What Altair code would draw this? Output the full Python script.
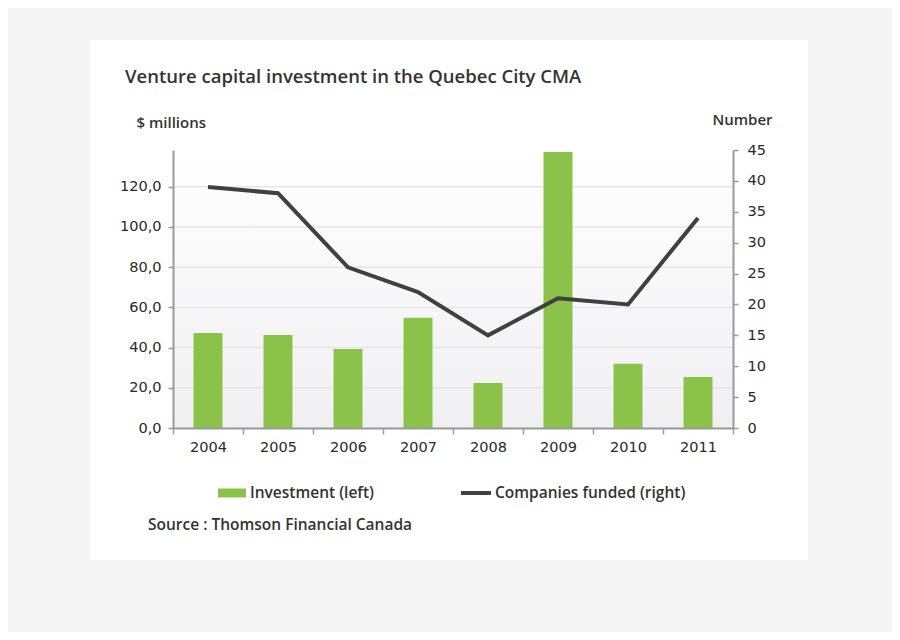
import altair as alt
import pandas as pd

years = ["2004", "2005", "2006", "2007", "2008", "2009", "2010", "2011"]
investment = [47.3, 46.3, 39.3, 54.8, 22.4, 137.3, 32.0, 25.4]
companies = [39, 38, 26, 22, 15, 21, 20, 34]
left_ticks = [0, 20, 40, 60, 80, 100, 120]
right_ticks = [0, 5, 10, 15, 20, 25, 30, 35, 40, 45]

title_text = "Venture capital investment in the Quebec City CMA"
source_text = "Source : Thomson Financial Canada"
bar_label = "Investment (left)"
line_label = "Companies funded (right)"

FONT = "Open Sans"
NUMFONT = "DejaVu Sans"
TXT = "#333333"
NUMC = "#2a2a2a"
AX = "#9a9a9a"
LBL = 14.5

df = pd.DataFrame({"year": years, "investment": investment, "companies": companies,
                   "bar_s": [bar_label] * len(years), "line_s": [line_label] * len(years)})
grid_df = pd.DataFrame({"v": left_ticks})
one = pd.DataFrame({"k": [0]})

W, H = 560, 278

xenc = alt.X("year:O", scale=alt.Scale(paddingInner=0, paddingOuter=0),
             axis=alt.Axis(title=None, labelAngle=0, tickBand="extent", domainColor=AX,
                           domainWidth=2, tickColor=AX, tickSize=6, tickWidth=1.5,
                           labelPadding=6, labelFontSize=LBL, labelColor=NUMC,
                           labelFont=NUMFONT, zindex=1))

card = alt.Chart(one).mark_rect(fill="white").encode(
    x=alt.value(-83), x2=alt.value(635), y=alt.value(-110), y2=alt.value(410))

bg = alt.Chart(one).mark_rect(
    fill=alt.Gradient(gradient="linear",
                      stops=[alt.GradientStop(color="#ffffff", offset=0),
                             alt.GradientStop(color="#f0f0f3", offset=1)],
                      x1=0, x2=0, y1=0, y2=1)
).encode(x=alt.value(0), x2=alt.value(W), y=alt.value(0), y2=alt.value(H))

yleft_scale = alt.Scale(domain=[0, 138.3], nice=False, zero=True)

grid = alt.Chart(grid_df).mark_rule(color="#e6e6e8", strokeWidth=1.5).encode(
    y=alt.Y("v:Q", scale=yleft_scale),
    x=alt.value(0), x2=alt.value(W))

bars = alt.Chart(df).mark_bar(size=29).encode(
    x=xenc,
    y=alt.Y("investment:Q", scale=yleft_scale,
            axis=alt.Axis(values=left_ticks,
                          labelExpr="replace(format(datum.value, '.1f'), '.', ',')",
                          grid=False, zindex=1,
                          domainColor=AX, domainWidth=2, tickColor=AX, tickSize=5,
                          tickWidth=1.5, labelFontSize=LBL, labelColor=NUMC,
                          labelFont=NUMFONT, labelPadding=7,
                          title="$ millions", titleAngle=0, titleX=-37,
                          titleY=-28, titleAlign="left", titleBaseline="middle",
                          titleFontSize=15, titleFont=FONT, titleColor=TXT,
                          titleFontWeight=600)),
    color=alt.Color("bar_s:N", scale=alt.Scale(range=["#8bc34a"]),
                    legend=alt.Legend(orient="none", legendX=45, legendY=329, title=None,
                                      padding=0, symbolType="M-1,-0.32L1,-0.32L1,0.32L-1,0.32Z",
                                      symbolSize=784, symbolStrokeWidth=0, labelOffset=4,
                                      labelFontSize=15.5, labelFontWeight=600,
                                      labelColor=TXT, labelFont=FONT, labelLimit=400)),
)

left = alt.layer(grid, bars)

line = alt.Chart(df).mark_line(strokeWidth=4).encode(
    x=alt.X("year:O"),
    y=alt.Y("companies:Q", scale=alt.Scale(domain=[0, 45], nice=False),
            axis=alt.Axis(orient="right", values=right_ticks, grid=False, zindex=1,
                          domainColor=AX, domainWidth=2, tickColor=AX, tickSize=5,
                          tickWidth=1.5, labelFontSize=LBL, labelColor=NUMC,
                          labelFont=NUMFONT, labelPadding=9,
                          title="Number", titleAngle=0, titleX=9,
                          titleY=-31, titleAlign="center", titleBaseline="middle",
                          titleFontSize=15, titleFont=FONT, titleColor=TXT,
                          titleFontWeight=600)),
    stroke=alt.Stroke("line_s:N", scale=alt.Scale(range=["#404040"]),
                      legend=alt.Legend(orient="none", legendX=286, legendY=326, title=None,
                                        padding=0, symbolType="stroke", symbolSize=900,
                                        symbolStrokeWidth=4, labelOffset=2,
                                        labelFontSize=15.5, labelFontWeight=600,
                                        labelColor=TXT, labelFont=FONT, labelLimit=400)),
)

title = alt.Chart(one).mark_text(align="left", baseline="middle", font=FONT, fontSize=18.5,
                                 fontWeight=600, color=TXT).encode(
    x=alt.value(-48), y=alt.value(-73), text=alt.value(title_text))

source = alt.Chart(one).mark_text(align="left", baseline="middle", font=FONT, fontSize=15.5,
                                  fontWeight=600, color=TXT).encode(
    x=alt.value(-25), y=alt.value(375), text=alt.value(source_text))

chart = alt.layer(card, bg, left, line, title, source).resolve_scale(
    y="independent"
).properties(
    width=W, height=H,
    autosize=alt.AutoSizeParams(type="none"),
    padding={"left": 165, "top": 142, "right": 159, "bottom": 204},
    background="#f5f5f5",
).configure_view(stroke=None)

chart.save("out.html", embed_options={"renderer": "svg", "actions": False})
